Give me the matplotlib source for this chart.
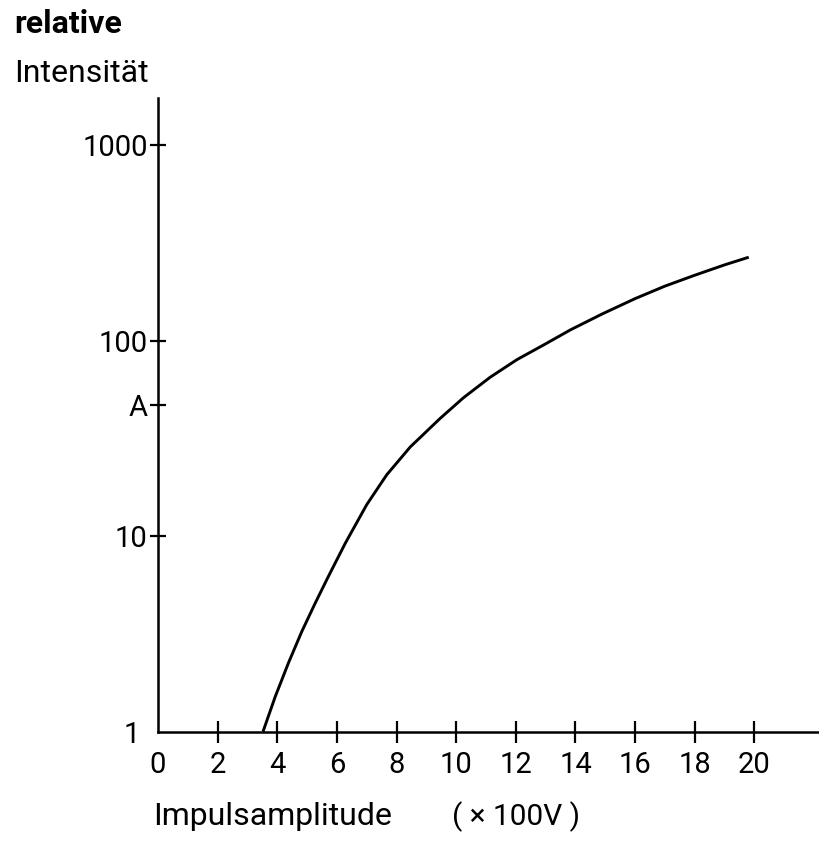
import matplotlib
matplotlib.use("Agg")
import matplotlib.pyplot as plt

# Data (relative intensity vs. pulse amplitude, x100 V)
amplitude = [3.52, 3.93, 4.37, 4.82, 5.27, 5.71, 6.28, 7.0, 7.67, 8.46, 9.46,
             10.24, 11.14, 12.04, 12.93, 13.83, 14.9, 16.0, 17.0, 18.0, 19.0, 19.81]
intensity = [1.0, 1.51, 2.24, 3.25, 4.54, 6.21, 9.2, 14.5, 20.6, 28.6, 40.0,
             51.0, 65.0, 80.0, 95, 113.5, 137, 164, 190, 216, 244, 267]

x_ticks = [0, 2, 4, 6, 8, 10, 12, 14, 16, 18, 20]
x_tick_labels = [str(v) for v in x_ticks]
y_ticks = [1, 10, 47, 100, 1000]
y_tick_labels = ["1", "10", "A", "100", "1000"]

plt.rcParams['font.family'] = ['Roboto', 'DejaVu Sans']

fig = plt.figure(figsize=(8.2, 8.43), dpi=100)
ax = fig.add_axes([0.1927, 0.132, 1 - 0.1927, 0.7517])

ax.plot(amplitude, intensity, color='black', lw=2.1,
        solid_capstyle='butt', solid_joinstyle='round')
ax.set_yscale('log')
ax.set_xlim(0, 22.2)
ax.set_ylim(1, 1740)

for s in ['top', 'right']:
    ax.spines[s].set_visible(False)
for s in ['left', 'bottom']:
    ax.spines[s].set_linewidth(1.8)

ax.set_xticks(x_ticks)
ax.set_xticklabels(x_tick_labels, fontsize=21)
ax.set_yticks(y_ticks)
ax.set_yticklabels(y_tick_labels, fontsize=21)
ax.minorticks_off()
ax.tick_params(axis='x', direction='inout', length=16, width=1.6, pad=6)
ax.tick_params(axis='y', direction='inout', length=11, width=1.6, pad=2)
ax.xaxis.get_major_ticks()[0].tick1line.set_visible(False)
ytick0 = ax.yaxis.get_major_ticks()[0]
ytick0.tick1line.set_visible(False)
ytick0.label1.set_x(-0.012)

fig.text(14 / 820, 1 - 33 / 843, "relative", fontsize=23, fontweight='bold',
         ha='left', va='baseline')
fig.text(14 / 820, 1 - 82 / 843, "Intensität", fontsize=23,
         ha='left', va='baseline')
fig.text(153 / 820, 1 - 825 / 843, "Impulsamplitude", fontsize=23,
         ha='left', va='baseline')
fig.text(452 / 820, 1 - 825 / 843, "( × 100V )", fontsize=21.5,
         ha='left', va='baseline')

fig.savefig("out.png", dpi=100)
